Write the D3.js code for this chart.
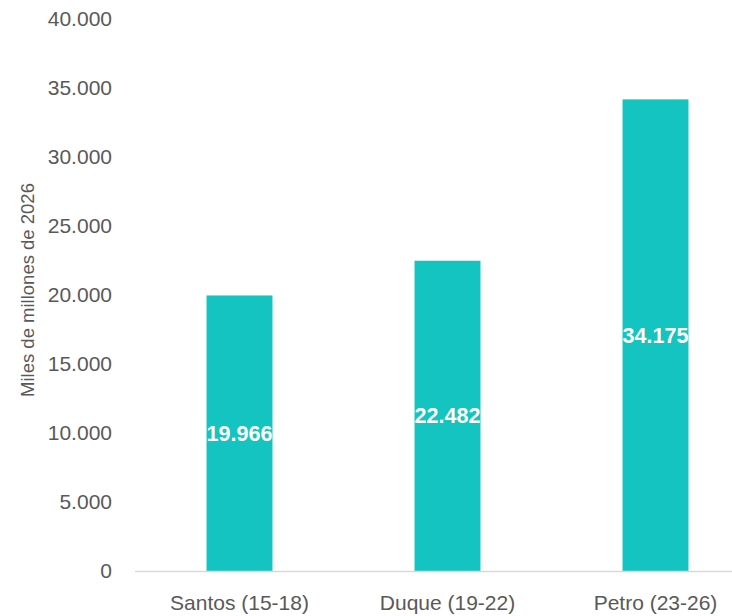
<!DOCTYPE html>
<html>
<head>
<meta charset="utf-8">
<script src="https://cdn.jsdelivr.net/npm/d3@7"></script>
<style>
  body { margin: 0; background: #fff; }
  text { font-family: "Liberation Sans", Arial, sans-serif; }
</style>
</head>
<body>
<div id="chart"></div>
<script>
var width = 732,
    height = 616;

var categories = ["Santos (15-18)", "Duque (19-22)", "Petro (23-26)"];
var values = [19966, 22482, 34175];
var yTicks = [0, 5000, 10000, 15000, 20000, 25000, 30000, 35000, 40000];

var fmt = function(v){ return d3.format(",")(v).replace(/,/g, "."); };

var svg = d3.select("#chart")
  .append("svg")
  .attr("width", width)
  .attr("height", height);

var x = d3.scaleBand()
  .domain(categories)
  .range([135.5, 759.5])
  .paddingInner(0.683)
  .paddingOuter(0.3415);

var y = d3.scaleLinear()
  .domain([0, 40000])
  .range([571, 19]);

// y tick labels
svg.append("g")
  .selectAll("text")
  .data(yTicks)
  .enter()
  .append("text")
  .attr("x", 112)
  .attr("y", function(d){ return y(d); })
  .attr("dy", "0.35em")
  .attr("text-anchor", "end")
  .attr("fill", "#595959")
  .style("font-size", "21px")
  .text(function(d){ return fmt(d); });

// bars
svg.append("g")
  .selectAll("rect")
  .data(values)
  .enter()
  .append("rect")
  .attr("x", function(d, i){ return x(categories[i]); })
  .attr("width", x.bandwidth())
  .attr("y", function(d){ return y(d); })
  .attr("height", function(d){ return y(0) - y(d); })
  .attr("fill", "#13C4C0");

// baseline
svg.append("line")
  .attr("x1", 135)
  .attr("x2", width)
  .attr("y1", y(0) + 0.5)
  .attr("y2", y(0) + 0.5)
  .attr("stroke", "#d9d9d9")
  .attr("stroke-width", 1.5);

// value labels
svg.append("g")
  .selectAll("text")
  .data(values)
  .enter()
  .append("text")
  .attr("x", function(d, i){ return x(categories[i]) + x.bandwidth() / 2; })
  .attr("y", function(d){ return (y(d) + y(0)) / 2; })
  .attr("dy", "0.35em")
  .attr("text-anchor", "middle")
  .attr("fill", "#fff")
  .style("font-size", "21.5px")
  .style("font-weight", "bold")
  .text(function(d){ return fmt(d); });

// x category labels
svg.append("g")
  .selectAll("text")
  .data(categories)
  .enter()
  .append("text")
  .attr("x", function(d){ return x(d) + x.bandwidth() / 2; })
  .attr("y", 610)
  .attr("text-anchor", "middle")
  .attr("fill", "#595959")
  .style("font-size", "21px")
  .text(function(d){ return d; });

// y axis title
svg.append("text")
  .attr("transform", "translate(34,290) rotate(-90)")
  .attr("text-anchor", "middle")
  .attr("fill", "#595959")
  .style("font-size", "18.5px")
  .text("Miles de millones de 2026");
</script>
</body>
</html>
